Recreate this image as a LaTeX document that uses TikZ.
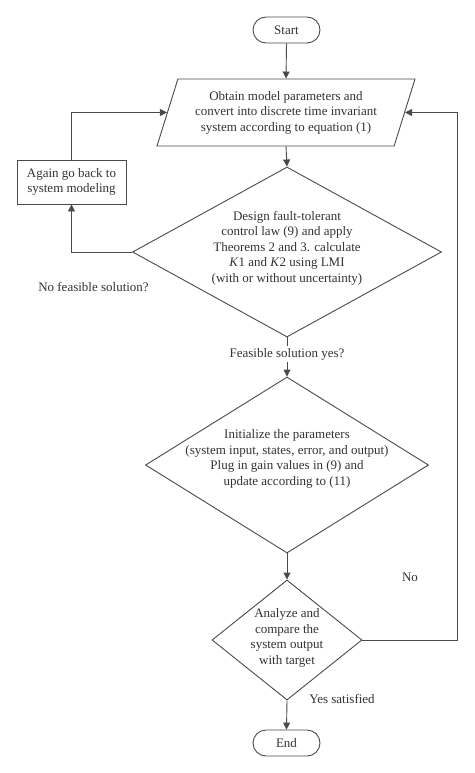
\documentclass[tikz,border=0pt]{standalone}
\usepackage{fontspec}
\setmainfont{Liberation Serif}
\usetikzlibrary{shapes.geometric,arrows.meta}
\definecolor{linec}{HTML}{4A4A4A}
\definecolor{textc}{HTML}{333333}
\begin{document}
\begin{tikzpicture}[x=1pt,y=-1pt,
  line/.style={draw=linec, line width=0.9pt},
  arr/.style={line, -{Triangle[length=7pt,width=7pt]}},
  txt/.style={font=\fontsize{13}{15.5}\selectfont, text=textc, align=center, inner sep=0pt},
  term/.style={txt, draw=linec, line width=0.9pt, rounded corners=13pt, minimum width=67pt, minimum height=26pt},
  procbox/.style={txt, draw=linec, line width=0.9pt, minimum width=109pt, minimum height=44pt},
  dia/.style={draw=linec, line width=0.9pt, diamond, inner sep=0pt},
  para/.style={txt, draw=linec, line width=0.9pt, trapezium, trapezium left angle=64, trapezium right angle=116, trapezium stretches body, minimum width=258pt, minimum height=67pt}
]
\fill[white] (0,0) rectangle (474,773);
\useasboundingbox (0,0) rectangle (474,773);

\node[term] (start) at (286.5,30) {Start};
\node[para] (p) at (286,112.5) {Obtain model parameters and\\convert into discrete time invariant\\system according to equation (1)};
\node[procbox] (back) at (71.5,182) {Again go back to\\system modeling};

\node[dia, minimum width=309pt, minimum height=170pt] (d1) at (287,252) {};
\node[txt] (d1t) at (287,248) {Design fault-tolerant\\control law (9) and apply\\Theorems 2 and 3. calculate\\\textit{K}1 and \textit{K}2 using LMI\\(with or without uncertainty)};

\node[dia, minimum width=283pt, minimum height=176pt] (d2) at (287,465) {};
\node[txt] (d2t) at (287,459) {Initialize the parameters\\(system input, states, error, and output)\\Plug in gain values in (9) and\\update according to (11)};

\node[dia, minimum width=150pt, minimum height=120pt] (d3) at (287,640) {};
\node[txt] (d3t) at (287,638) {Analyze and\\compare the\\system output\\with target};

\node[term] (end) at (286.5,743) {End};

\coordinate (rloop) at (457,640);

\draw[arr] (start.south) -- (p.north);
\draw[arr] (p.south) -- (d1.north);
\draw[arr] (d1.west) -| (back.south);
\draw[arr] (back.north) |- (p.west);
\draw[arr] (d1.south) -- node[txt, fill=white, inner sep=2pt, pos=0.43] (feas) {Feasible solution yes?} (d2.north);
\draw[arr] (d2.south) -- (d3.north);
\draw[arr] (d3.east) -- (rloop) |- (p.east);
\draw[arr] (d3.south) -- (end.north);

\node[txt] (nofeas) at (93.5,287) {No feasible solution?};
\node[txt] (no) at (410,577) {No};
\node[txt] (yes) at (342,699) {Yes satisfied};
\end{tikzpicture}
\end{document}
